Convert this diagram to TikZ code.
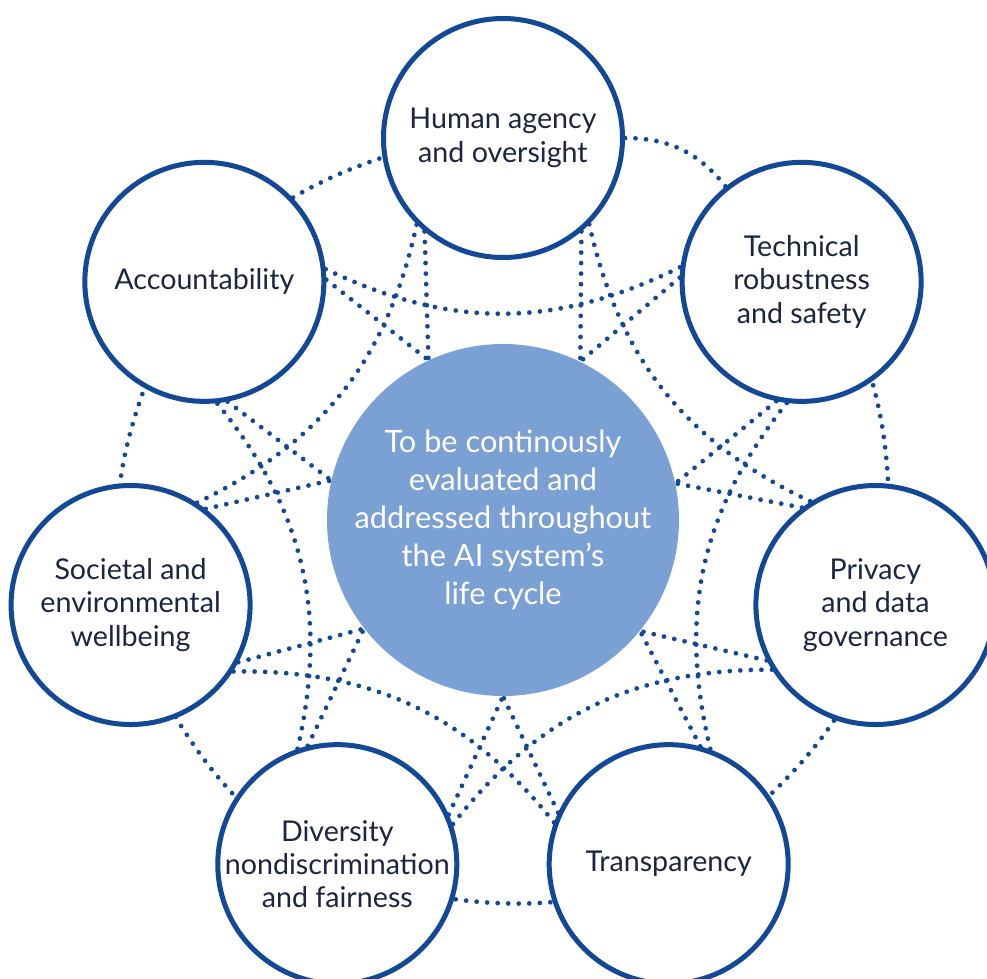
\documentclass[tikz,border=0pt]{standalone}
\usepackage{fontspec}
\setmainfont{Lato}
\usetikzlibrary{backgrounds}
\definecolor{ringblue}{HTML}{124896}
\definecolor{hubblue}{HTML}{7BA0D4}
\definecolor{inkblue}{HTML}{1C2541}
\tikzset{
  req/.style={circle, draw=ringblue, line width=2.85pt, fill=white, minimum size=4.78cm,
    inner sep=-2pt, align=center, text=inkblue, font=\fontsize{16.3}{19}\selectfont},
  hubdisc/.style={circle, fill=hubblue, minimum size=7.04cm, inner sep=0pt, align=center,
    text=white, font=\fontsize{17.5}{21.6}\selectfont},
  dotlink/.style={draw=ringblue, line width=2.7pt, line cap=round, dash pattern=on 0pt off 6pt},
}

\begin{document}
\begin{tikzpicture}
\useasboundingbox (-10.06,-9.16) rectangle (9.68,10.4);
\node (hub) [hubdisc] at (0,0) {To be continously\\evaluated and\\addressed throughout\\the AI system’s\\life cycle};
\node (hum) [req] at (90:7.64) {Human agency\\and oversight};
\node (tec) [req] at (38.57:7.64) {Technical\\robustness\\and safety};
\node (pri) [req] at (-12.86:7.64) {Privacy\\and data\\governance};
\node (tra) [req] at (-64.29:7.64) {Transparency};
\node (div) [req] at (-115.71:7.64) {Diversity\\nondiscrimination\\and fairness};
\node (soc) [req] at (-167.14:7.64) {Societal and\\environmental\\wellbeing};
\node (acc) [req] at (141.43:7.64) {Accountability};
\begin{scope}[on background layer]
% outer ring
\draw[dotlink] (hum) to[bend left=25.71] (tec) to[bend left=25.71] (pri) to[bend left=25.71] (tra)
  to[bend left=25.71] (div) to[bend left=25.71] (soc) to[bend left=25.71] (acc) to[bend left=25.71] (hum);
% one requirement skipped
\draw[dotlink] (hum.315) to[bend right=26] (pri.122.14);
\draw[dotlink] (tec.263.57) to[bend right=26] (tra.70.71);
\draw[dotlink] (pri.212.14) to[bend right=26] (div.19.29);
\draw[dotlink] (tra.160.71) to[bend right=26] (soc.327.86);
\draw[dotlink] (div.109.29) to[bend right=26] (acc.276.43);
\draw[dotlink] (soc.57.86) to[bend right=26] (hum.225);
\draw[dotlink] (acc.6.43) to[bend right=26] (tec.173.57);
% spokes to the centre
\draw[dotlink] (hum.310) -- (hub.64.29);
\draw[dotlink] (tec.178.57) -- (hub.64.29);
\draw[dotlink] (tec.258.57) -- (hub.12.86);
\draw[dotlink] (pri.127.14) -- (hub.12.86);
\draw[dotlink] (pri.207.14) -- (hub.321.43);
\draw[dotlink] (tra.75.71) -- (hub.321.43);
\draw[dotlink] (tra.155.71) -- (hub.270);
\draw[dotlink] (div.24.29) -- (hub.270);
\draw[dotlink] (div.104.29) -- (hub.218.57);
\draw[dotlink] (soc.332.86) -- (hub.218.57);
\draw[dotlink] (soc.52.86) -- (hub.167.14);
\draw[dotlink] (acc.281.43) -- (hub.167.14);
\draw[dotlink] (acc.1.43) -- (hub.115.71);
\draw[dotlink] (hum.230) -- (hub.115.71);
\end{scope}
\end{tikzpicture}
\end{document}
